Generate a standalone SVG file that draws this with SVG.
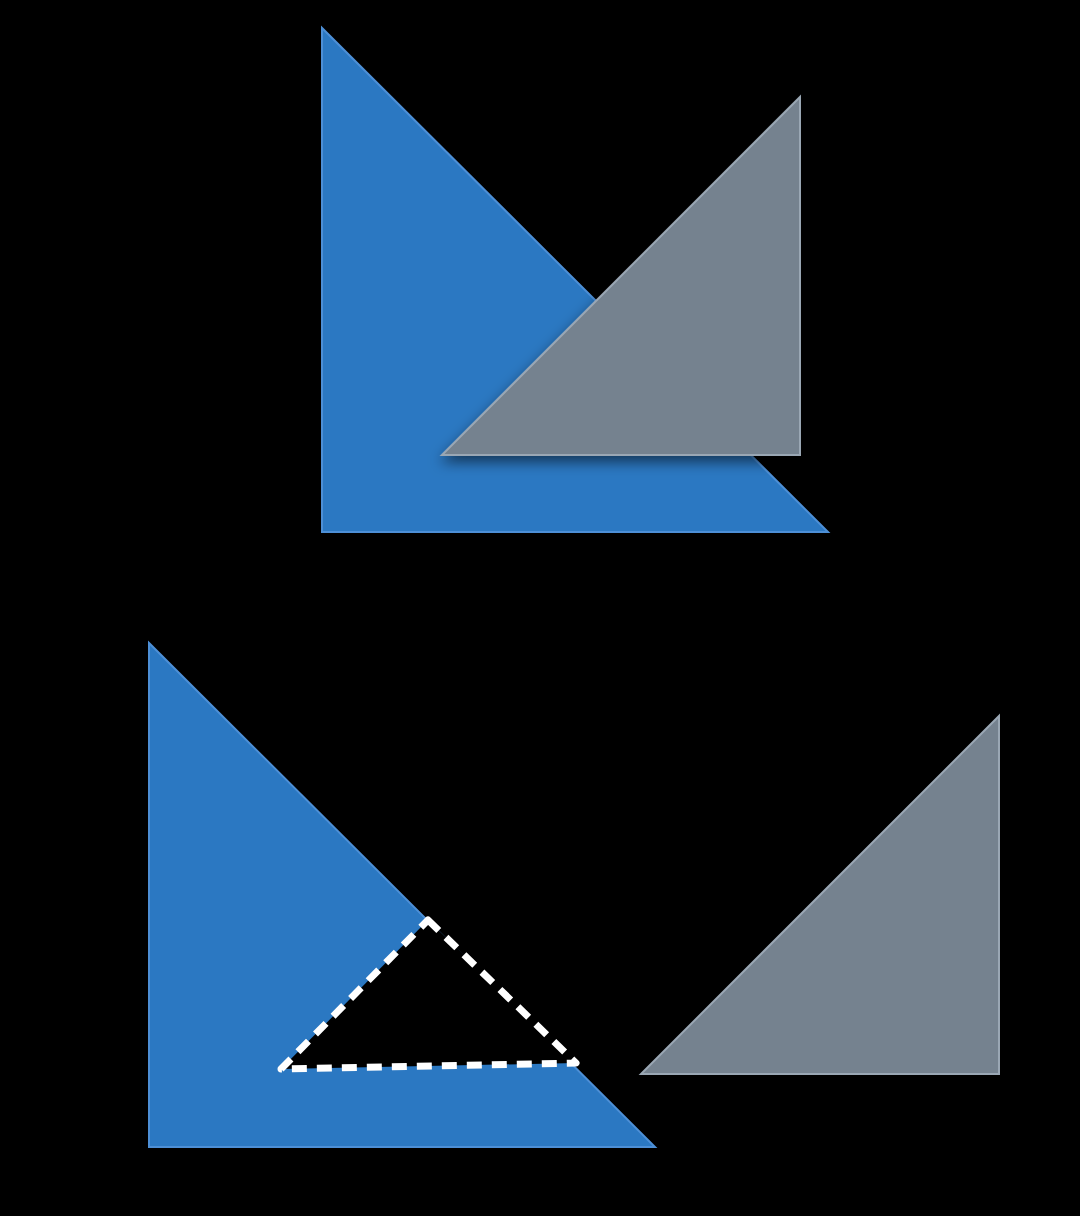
<svg xmlns="http://www.w3.org/2000/svg" width="1080" height="1216" viewBox="0 0 1080 1216">
<defs>
<style>
.blue{fill:#2b78c2;stroke:#4d8fd6;stroke-width:2}
.gray{fill:#75828f;stroke:#9aa7b4;stroke-width:2}
.cut{fill:#000;stroke:#fff;stroke-width:7;stroke-dasharray:15 10;stroke-linejoin:round}
</style>
<filter id="sh" x="-20%" y="-20%" width="140%" height="150%">
<feDropShadow dx="0" dy="6" stdDeviation="7" flood-color="#000" flood-opacity="0.55"/>
</filter>
</defs>
<rect width="1080" height="1216" fill="#000"/>
<g id="top-blue"><polygon class="blue" points="322,28 322,532 828,532"/></g>
<g id="top-gray"><polygon class="gray" filter="url(#sh)" points="800,97 800,455 442,455"/></g>
<g id="bottom-blue"><polygon class="blue" points="149,643 149,1147 655,1147"/></g>
<g id="bottom-cut"><polygon class="cut" points="428,920 576,1063 281,1069"/></g>
<g id="bottom-gray"><polygon class="gray" points="999,716 999,1074 641,1074"/></g>
<g id="connectors"></g>
</svg>
